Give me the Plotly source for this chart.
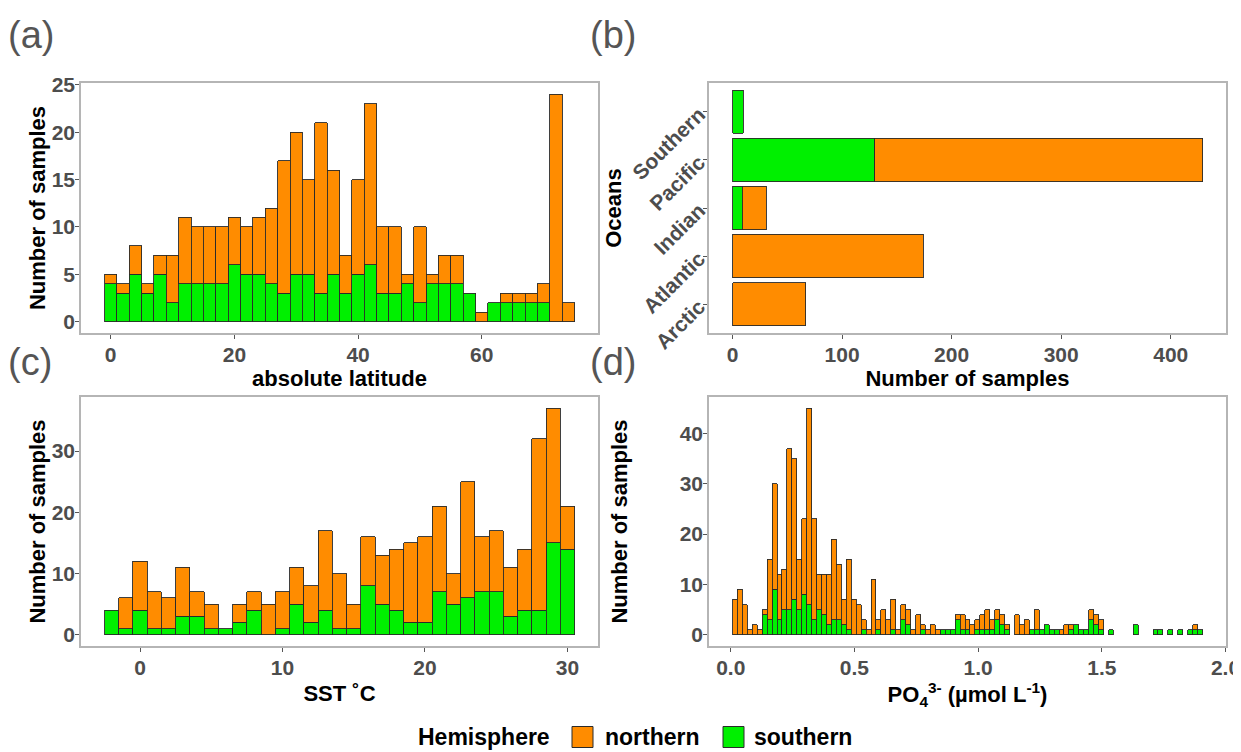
import plotly.graph_objects as go
from plotly.subplots import make_subplots

# ---------------- data ----------------
# (a) absolute latitude histogram, bin width 2
lat_bins = [0, 2, 4, 6, 8, 10, 12, 14, 16, 18, 20, 22, 24, 26, 28, 30, 32, 34, 36, 38,
            40, 42, 44, 46, 48, 50, 52, 54, 56, 58, 60, 62, 64, 66, 68, 70, 72, 74]
lat_north = [1, 1, 3, 1, 2, 5, 7, 6, 6, 6, 5, 5, 6, 8, 14, 15, 10, 18, 11, 4,
             10, 17, 7, 7, 1, 8, 1, 3, 3, 0, 1, 0, 1, 1, 1, 2, 24, 2]
lat_south = [4, 3, 5, 3, 5, 2, 4, 4, 4, 4, 6, 5, 5, 4, 3, 5, 5, 3, 5, 3,
             5, 6, 3, 3, 4, 2, 4, 4, 4, 3, 0, 2, 2, 2, 2, 2, 0, 0]

# (b) oceans
oceans = ["Arctic", "Atlantic", "Indian", "Pacific", "Southern"]
ocean_north = [67, 174, 22, 299, 0]
ocean_south = [0, 0, 9, 130, 10]

# (c) SST histogram, bin width 1
sst_bins = [-2, -1, 0, 1, 2, 3, 4, 5, 6, 7, 8, 9, 10, 11, 12, 13, 14, 15, 16, 17,
            18, 19, 20, 21, 22, 23, 24, 25, 26, 27, 28, 29, 30]
sst_north = [0, 5, 8, 6, 5, 8, 4, 4, 0, 3, 3, 5, 6, 6, 6, 13, 9, 4, 8, 8,
             10, 13, 14, 14, 5, 19, 9, 10, 8, 10, 28, 22, 7]
sst_south = [4, 1, 4, 1, 1, 3, 3, 1, 1, 2, 4, 0, 1, 5, 2, 4, 1, 1, 8, 5,
             4, 2, 2, 7, 5, 6, 7, 7, 3, 4, 4, 15, 14]

# (d) PO4 histogram, bin width 0.02, first bin centre 0.017
po4_start = 0.017
po4_width = 0.02
po4_total = [7, 9, 6, 1, 2, 1, 5, 15, 30, 12, 13, 37, 35, 15, 23, 45, 23, 12, 12, 12,
             19, 14, 7, 15, 7, 6, 3, 1, 11, 3, 5, 3, 7, 1, 6, 5, 1, 4, 2, 1,
             2, 1, 1, 1, 1, 4, 4, 3, 2, 3, 4, 5, 3, 5, 4, 2, 0, 4, 2, 3,
             1, 5, 1, 2, 1, 1, 1, 2, 2, 2, 1, 1, 5, 4, 3, 0, 1, 0, 0, 0,
             0, 2, 0, 0, 0, 1, 1, 0, 1, 0, 1, 0, 1, 2, 1]
po4_south = [0, 0, 0, 0, 0, 0, 4, 3, 9, 3, 5, 5, 7, 5, 8, 6, 3, 5, 4, 2,
             3, 3, 2, 1, 0, 0, 1, 0, 0, 1, 0, 0, 1, 0, 3, 2, 0, 0, 1, 0,
             0, 0, 1, 1, 1, 3, 1, 1, 0, 1, 1, 1, 1, 3, 2, 1, 0, 0, 0, 0,
             1, 1, 1, 2, 1, 1, 0, 0, 1, 2, 1, 1, 3, 2, 1, 0, 1, 0, 0, 0,
             0, 2, 0, 0, 0, 1, 1, 0, 1, 0, 1, 0, 1, 1, 1]
po4_north = [t - s for t, s in zip(po4_total, po4_south)]
po4_bins = [round(po4_start + po4_width * i, 4) for i in range(len(po4_total))]

hemispheres = ["northern", "southern"]

# ---------------- style ----------------
ORANGE = "#FF8C00"
GREEN = "#00F000"
EDGE = "#2a2a2a"
FONT = "Liberation Sans"
TICKC = "#4d4d4d"

# page has an 8px body margin -> work in reference pixel coordinates
OFF = 8
W, H = 1241 - OFF, 752 - OFF


def PX(px):
    return (px - OFF) / W


def PY(py):
    return 1 - (py - OFF) / H


def nz(v):
    return [None if a == 0 else a for a in v]


fig = make_subplots(rows=2, cols=2)


def add_hist(xs, north, south, width, row, col, horiz=False):
    if horiz:
        gs = go.Bar(y=xs, x=nz(south), orientation="h", width=width)
        gn = go.Bar(y=xs, x=nz(north), orientation="h", width=width)
    else:
        gs = go.Bar(x=xs, y=nz(south), width=width)
        gn = go.Bar(x=xs, y=nz(north), width=width)
    gs.update(name="southern", marker=dict(color=GREEN, line=dict(color=EDGE, width=0.9)),
              showlegend=False, hoverinfo="skip")
    gn.update(name="northern", marker=dict(color=ORANGE, line=dict(color=EDGE, width=0.9)),
              showlegend=False, hoverinfo="skip")
    fig.add_trace(gs, row=row, col=col)
    fig.add_trace(gn, row=row, col=col)


add_hist(lat_bins, lat_north, lat_south, 2, 1, 1)
add_hist(oceans, ocean_north, ocean_south, 0.9, 1, 2, horiz=True)
add_hist(sst_bins, sst_north, sst_south, 1, 2, 1)
add_hist(po4_bins, po4_north, po4_south, po4_width, 2, 2)

xdomL = [PX(81), PX(598)]
xdomR = [PX(709), PX(1226)]
ydomT = [PY(333), PY(83)]
ydomB = [PY(646), PY(397)]

axis_common = dict(
    showline=True, mirror=True, linecolor="#b5b5b5", linewidth=1.5,
    ticks="outside", ticklen=4, tickwidth=1, tickcolor="#555555",
    showgrid=False, zeroline=False,
    tickfont=dict(family=FONT, size=21, color=TICKC, weight="bold"),
)
xax = dict(axis_common, ticklabelstandoff=-2)
yax = dict(axis_common, ticklabelstandoff=-4)
title_font = dict(family=FONT, size=22, color="black", weight="bold")

fig.update_layout(
    width=W, height=H,
    margin=dict(l=0, r=0, t=0, b=0),
    paper_bgcolor="white", plot_bgcolor="white",
    barmode="stack",
    template=None,
    showlegend=False,
    xaxis=dict(domain=xdomL, range=[-4.8, 78.8], tickvals=[0, 20, 40, 60],
               title=dict(text="absolute latitude", font=title_font, standoff=6), **xax),
    yaxis=dict(domain=ydomT, range=[-1.2, 25.2], tickvals=[0, 5, 10, 15, 20, 25],
               title=dict(text="Number of samples", font=title_font, standoff=0), **yax),
    xaxis2=dict(domain=xdomR, range=[-21.45, 450.45], tickvals=[0, 100, 200, 300, 400],
                title=dict(text="Number of samples", font=title_font, standoff=3), **xax),
    yaxis2=dict(domain=ydomT, range=[-0.6, 4.6], type="category", tickangle=-45,
                categoryorder="array", categoryarray=oceans,
                title=dict(text="Oceans", font=title_font, standoff=0), **axis_common),
    xaxis3=dict(domain=xdomL, range=[-4.15, 32.15], tickvals=[0, 10, 20, 30],
                title=dict(text="SST ˚C", font=title_font, standoff=8), **xax),
    yaxis3=dict(domain=ydomB, range=[-1.85, 38.85], tickvals=[0, 10, 20, 30],
                title=dict(text="Number of samples", font=title_font, standoff=0), **yax),
    xaxis4=dict(domain=xdomR, range=[-0.088, 2.002], tickvals=[0, 0.5, 1.0, 1.5, 2.0],
                ticktext=["0.0", "0.5", "1.0", "1.5", "2.0"],
                title=dict(text="PO<sub>4</sub><sup>3-</sup> (µmol L<sup>-1</sup>)",
                           font=title_font, standoff=9), **xax),
    yaxis4=dict(domain=ydomB, range=[-2.25, 47.25], tickvals=[0, 10, 20, 30, 40],
                title=dict(text="Number of samples", font=title_font, standoff=46), **yax),
)

# panel letters
for txt, px, py in [("(a)", 6, 35), ("(b)", 588, 35), ("(c)", 6, 362), ("(d)", 588, 362)]:
    fig.add_annotation(text=txt, xref="paper", yref="paper", x=PX(px), y=PY(py),
                       xanchor="left", yanchor="middle", showarrow=False,
                       font=dict(family=FONT, size=38, color="#555555"))

# legend (drawn at the bottom, ggplot style)
leg_font = dict(family=FONT, size=23, color="black", weight="bold")
leg_y = 737
fig.add_annotation(text="Hemisphere", xref="paper", yref="paper", x=PX(416), y=PY(leg_y),
                   xanchor="left", yanchor="middle", showarrow=False, font=leg_font)
for name, color, box_x0, text_x in [(hemispheres[0], ORANGE, 572, 603),
                                    (hemispheres[1], GREEN, 723, 752)]:
    fig.add_shape(type="rect", xref="paper", yref="paper",
                  x0=PX(box_x0), x1=PX(box_x0 + 21), y0=PY(leg_y + 10.5), y1=PY(leg_y - 10.5),
                  fillcolor=color, line=dict(color=EDGE, width=1))
    fig.add_annotation(text=name, xref="paper", yref="paper", x=PX(text_x), y=PY(leg_y),
                       xanchor="left", yanchor="middle", showarrow=False, font=leg_font)

fig.write_html("out.html")
